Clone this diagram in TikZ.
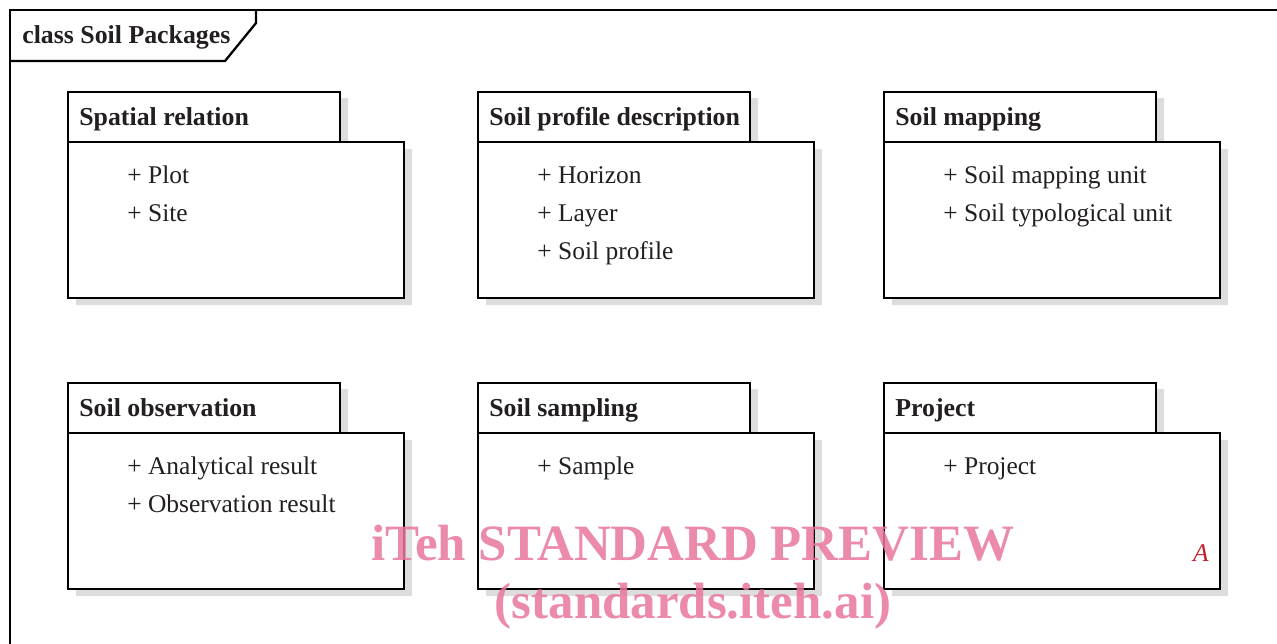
\documentclass[tikz,border=0pt]{standalone}
\usepackage{fontspec}
\setmainfont{Liberation Serif}
\usetikzlibrary{calc}
\definecolor{umltext}{RGB}{35,31,32}
\definecolor{pkgshade}{RGB}{221,221,221}
\definecolor{tagred}{RGB}{196,32,44}
\definecolor{wmpink}{RGB}{233,118,156}
\newcommand{\TabW}{272}
\newcommand{\TabH}{50}
\newcommand{\PkgW}{336}
\newcommand{\PkgH}{156}
\newcommand{\SoilPackage}[5]{%
  \fill[pkg shadow] (#2+8,#3+6) rectangle ++(\TabW,\TabH) %
                    (#2+8,#3+\TabH+7) rectangle ++(\PkgW,\PkgH);
  \draw[pkg line] (#2,#3) rectangle ++(\TabW,\TabH);
  \draw[pkg line] (#2,#3+\TabH) rectangle ++(\PkgW,\PkgH);
  \node[pkg title] (#1) at (#2+11,#3+33) {#4};
  \foreach \itm [count=\k] in {#5}
    \node[pkg item] (#1-\k) at (#2+59,#3+53+38*\k) {+ \itm};
}

\begin{document}
\begin{tikzpicture}[x=0.02cm,y=-0.02cm,
    pkg shadow/.style={fill=pkgshade},
    pkg line/.style={draw=black,line width=1.4pt,fill=white},
    pkg title/.style={anchor=base west,inner sep=0pt,text=umltext,
      font=\fontsize{14.7}{17}\selectfont\bfseries},
    pkg item/.style={anchor=base west,inner sep=0pt,text=umltext,
      font=\fontsize{14.5}{17}\selectfont},
    mark text/.style={anchor=base,inner sep=0pt,text=wmpink,opacity=0.85,
      font=\fontsize{29}{32}\selectfont\bfseries}]
    \useasboundingbox (0,0) rectangle (1277,643);
    % diagram frame
    \draw[line width=1.3pt] (10,650) -- (10,10) -- (1280,10);
    \draw[line width=1.3pt] (10,61) -- (225,61) -- (256,23) -- (256,10);
    \node[pkg title] (frame) at (22,43) {class Soil Packages};
    % packages
    \SoilPackage{spatial}{68}{92}{Spatial relation}{Plot,Site}
    \SoilPackage{profile}{478}{92}{Soil profile description}{Horizon,Layer,Soil profile}
    \SoilPackage{mapping}{884}{92}{Soil mapping}{Soil mapping unit,Soil typological unit}
    \SoilPackage{observation}{68}{383}{Soil observation}{Analytical result,Observation result}
    \SoilPackage{sampling}{478}{383}{Soil sampling}{Sample}
    \SoilPackage{project}{884}{383}{Project}{Project}
    \node[anchor=base east,inner sep=0pt,text=tagred,
      font=\fontsize{14.5}{17}\selectfont\itshape] (abstract) at (1209,561) {A};
    % watermark
    \node[mark text] (wm1) at (693,560) {iTeh STANDARD PREVIEW};
    \node[mark text] (wm2) at (693,618) {(standards.iteh.ai)};
\end{tikzpicture}
\end{document}
